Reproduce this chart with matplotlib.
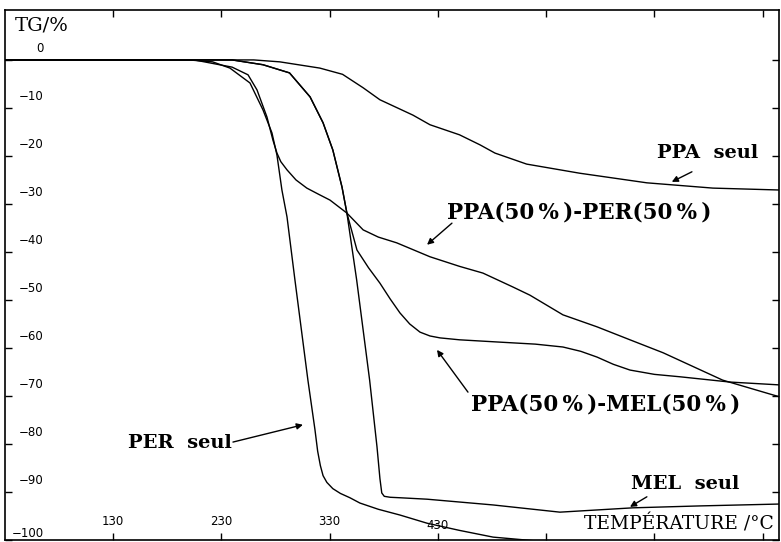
import matplotlib
matplotlib.use('Agg')
import matplotlib.pyplot as plt


# Courbes TG (température en °C, perte de masse en %)
PER_T = [30, 200, 222, 238, 256.5, 268.5, 276.8, 281.4, 286, 290.7, 298, 310,
         316.5, 319, 321.5, 324, 327.5, 333, 340, 348.8, 358, 375, 395, 420, 450, 481, 531]
PER_TG = [0, 0, -0.4, -1.7, -4.8, -10.4, -15.2, -19.8, -27.1, -32.7, -45.8, -66.7,
          -77, -81.5, -84.5, -86.6, -88.0, -89.3, -90.3, -91.2, -92.3, -93.6, -94.8, -96.5,
          -98.0, -99.4, -100.4]

PPA_PER_T = [30, 205, 240, 254.7, 263, 272.2, 277.7, 281.4, 285, 290.7, 299, 309, 320,
             330.4, 346, 361, 375, 392, 422.7, 450, 471.6, 499.3, 515, 545.5, 577, 607.4,
             638, 665, 693, 736.7, 746]
PPA_PER_TG = [0, 0, -1.5, -3.1, -6.25, -11.9, -16.7, -19.4, -21.2, -22.9, -25.0, -26.7, -28.0,
              -29.2, -31.9, -35.4, -36.9, -38.1, -41, -43.0, -44.4, -47.3, -49, -53.1, -55.6,
              -58.3, -61, -63.8, -66.7, -69.6, -70.2]

MEL_T = [30, 240, 268.5, 293, 312, 324, 333, 341.5, 346, 355, 367, 373.8,
         376.5, 378.2, 380.5, 386, 395, 420, 481, 542.7, 610, 672, 747]
MEL_TG = [0, 0, -1.0, -2.7, -7.7, -13.1, -18.75, -26.5, -31.9, -45.8, -66.7, -80.6,
          -87.2, -90.2, -90.9, -91.1, -91.2, -91.5, -92.7, -94.2, -93.3, -92.9, -92.5]

PPA_MEL_T = [30, 240, 268.5, 293, 312, 324, 333, 341.5, 346, 355.3, 366, 376.5, 386,
             395, 404, 413.5, 422.7, 432, 450, 484.6, 520, 545.5, 562, 577, 592, 607.4,
             630, 653.5, 699.7, 746]
PPA_MEL_TG = [0, 0, -1.0, -2.7, -7.7, -13.1, -18.75, -26.5, -31.9, -39.6, -43.3, -46.5, -49.8,
              -52.7, -55.0, -56.7, -57.5, -57.9, -58.3, -58.75, -59.2, -59.8, -60.7, -61.9,
              -63.4, -64.6, -65.5, -66, -67.1, -67.7]

PPA_T = [30, 260, 284, 321, 342, 361, 376.5, 407, 422.7, 450, 469, 482.7,
         512, 561, 623, 684, 746]
PPA_TG = [0, 0, -0.4, -1.7, -3.0, -5.8, -8.3, -11.5, -13.5, -15.6, -17.7, -19.4,
          -21.7, -23.6, -25.6, -26.7, -27.1]

X_TICKS = [130, 230, 330, 430, 530, 630, 730]
X_LABELS = ['130', '230', '330', '430']
Y_TICKS = [0, -10, -20, -30, -40, -50, -60, -70, -80, -90, -100]

SERIF = ['DejaVu Serif']
THIN = '\u2009'


def main():
    fig = plt.figure(figsize=(7.81, 5.42), dpi=100)
    ax = fig.add_axes([5 / 781, 2 / 542, 774 / 781, 530 / 542])

    for t, tg in [(PER_T, PER_TG), (PPA_PER_T, PPA_PER_TG), (MEL_T, MEL_TG),
                  (PPA_MEL_T, PPA_MEL_TG), (PPA_T, PPA_TG)]:
        ax.plot(t, tg, color='black', linewidth=1.0)

    ax.set_xlim(30.3, 745)
    ax.set_ylim(-100, 10.4)

    ax.set_xticks(X_TICKS)
    ax.set_yticks(Y_TICKS)
    ax.set_xticklabels([])
    ax.set_yticklabels([])
    ax.tick_params(direction='in', length=5, width=1, top=True, right=True)
    for sp in ax.spines.values():
        sp.set_linewidth(1.2)

    # graduations écrites à l'intérieur du cadre
    for v in Y_TICKS:
        off = 1.4 if v == -100 else 2.3
        ax.text(66, v + off, str(v).replace('-', '\u2212'), fontsize=8.5,
                ha='right', va='center')
    for i, lab in enumerate(X_LABELS):
        ax.text(X_TICKS[i], -96.2 if i < 3 else -97, lab, fontsize=8.5,
                ha='center', va='center')

    ax.text(39.5, 7.2, 'TG/%', fontsize=14, family=SERIF, ha='left', va='center')
    ax.text(652.5, -96.6, 'TEMPÉRATURE /°C', fontsize=13.5, family=SERIF,
            ha='center', va='center')

    arrow = dict(arrowstyle='-|>', color='black', linewidth=1.0, mutation_scale=9,
                 shrinkA=0, shrinkB=0)
    label_kw = dict(fontsize=14, family=SERIF, fontweight='bold', ha='center', va='center')
    mix_kw = dict(label_kw, fontsize=15.5)

    ax.text(679.4, -19.4, 'PPA  seul', **label_kw)
    ax.annotate('', xy=(646, -25.4), xytext=(664.6, -23.3), arrowprops=arrow)

    ax.text(560.3, -31.7, 'PPA(50' + THIN + '%' + THIN + ')-PER(50' + THIN + '%' + THIN + ')',
            **mix_kw)
    ax.annotate('', xy=(420, -38.5), xytext=(443, -34), arrowprops=arrow)

    ax.text(585.2, -71.7, 'PPA(50' + THIN + '%' + THIN + ')-MEL(50' + THIN + '%' + THIN + ')',
            **mix_kw)
    ax.annotate('', xy=(429.2, -60.4), xytext=(457.8, -69.2), arrowprops=arrow)

    ax.text(191.9, -79.8, 'PER  seul', **label_kw)
    ax.annotate('', xy=(305.4, -76), xytext=(240.8, -79.6), arrowprops=arrow)

    ax.text(658.2, -88.3, 'MEL  seul', **label_kw)
    ax.annotate('', xy=(607.4, -93.1), xytext=(623, -91), arrowprops=arrow)

    fig.savefig('out.png', dpi=100)


if __name__ == '__main__':
    main()
